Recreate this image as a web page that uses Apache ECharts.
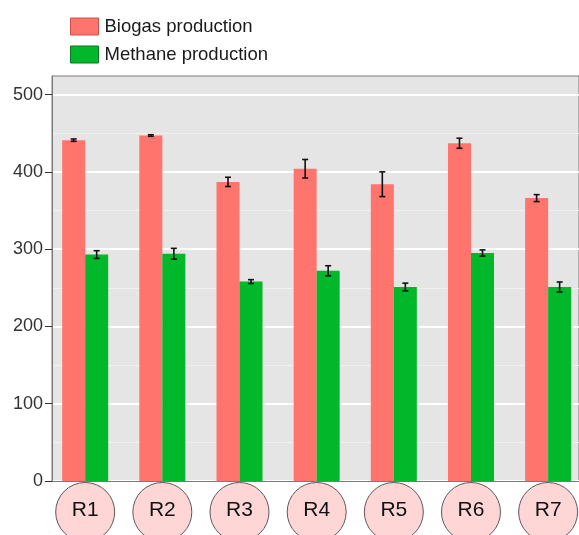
<!DOCTYPE html>
<html>
<head>
<meta charset="utf-8">
<script src="https://cdn.jsdelivr.net/npm/echarts@6/dist/echarts.min.js"></script>
<style>
  html, body { margin: 0; padding: 0; background: #ffffff; }
  #chart { width: 579px; height: 535px; }
</style>
</head>
<body>
<div id="chart"></div>
<script>
// Reactor labels along the x axis
const reactors = ['R1', 'R2', 'R3', 'R4', 'R5', 'R6', 'R7'];
// Mean biogas and methane production per reactor
const biogas = [441, 447, 387, 404, 384, 437, 366];
const methane = [293, 294, 258, 272, 251, 295, 251];
// Standard deviations used for the error bars
const biogasSd = [1.5, 1, 6, 12, 16, 6.5, 4.5];
const methaneSd = [5, 7, 2.5, 6.5, 5, 4, 6.5];
// Y axis tick values
const yTicks = [0, 100, 200, 300, 400, 500];

const FONT = '"Liberation Sans", Arial, Helvetica, sans-serif';
const RED = '#FF746C';
const GREEN = '#00B82A';
const BAR_W = 23;

const barData = (vals) => vals.map((v, i) => [i + 1, v]);
const errData = (vals, sd) => vals.map((v, i) => [i + 1, v - sd[i], v + sd[i]]);

function errorBar(shift) {
  return function (params, api) {
    const x = api.value(0);
    const lo = api.coord([x, api.value(1)]);
    const hi = api.coord([x, api.value(2)]);
    const cx = lo[0] + shift;
    const cap = 3;
    const style = { stroke: '#111', lineWidth: 1.6 };
    return {
      type: 'group',
      children: [
        { type: 'line', shape: { x1: cx, y1: lo[1], x2: cx, y2: hi[1] }, style },
        { type: 'line', shape: { x1: cx - cap, y1: lo[1], x2: cx + cap, y2: lo[1] }, style },
        { type: 'line', shape: { x1: cx - cap, y1: hi[1], x2: cx + cap, y2: hi[1] }, style }
      ]
    };
  };
}

const chart = echarts.init(document.getElementById('chart'), null, { renderer: 'canvas' });

chart.setOption({
  animation: false,
  backgroundColor: '#ffffff',
  textStyle: { fontFamily: FONT },
  legend: {
    orient: 'vertical',
    left: 65,
    top: 12,
    itemWidth: 28,
    itemHeight: 17,
    itemGap: 9,
    icon: 'rect',
    textStyle: { fontSize: 18.5, color: '#1a1a1a', fontFamily: FONT, padding: [0, 0, 0, 1], lineHeight: 17 },
    data: [
      { name: 'Biogas production', itemStyle: { borderColor: '#c9514a', borderWidth: 1 } },
      { name: 'Methane production', itemStyle: { borderColor: '#0a7a22', borderWidth: 1 } }
    ]
  },
  grid: {
    left: 52,
    right: 0,
    top: 76,
    bottom: 54,
    show: true,
    backgroundColor: '#E5E5E5',
    borderColor: '#7a7a7a',
    borderWidth: 1
  },
  xAxis: {
    type: 'value',
    min: 0.57,
    max: 7.4,
    axisLine: { show: true, lineStyle: { color: '#7a7a7a' } },
    axisTick: { show: false },
    axisLabel: { show: false },
    splitLine: { show: false }
  },
  yAxis: {
    type: 'value',
    min: 0,
    max: 524,
    interval: 100,
    axisLine: { show: true, lineStyle: { color: '#7a7a7a' } },
    axisTick: { show: true, length: 7, customValues: yTicks, lineStyle: { color: '#333' } },
    axisLabel: {
      fontSize: 18, color: '#333', margin: 9, fontFamily: FONT,
      customValues: yTicks
    },
    splitLine: { show: true, lineStyle: { color: '#ffffff', width: 2 } },
    minorTick: { show: false, splitNumber: 2 },
    minorSplitLine: { show: true, lineStyle: { color: '#F0F0F0', width: 1 } }
  },
  series: [
    {
      name: 'Biogas production',
      type: 'bar',
      barWidth: BAR_W,
      barGap: '0%',
      itemStyle: { color: RED },
      data: barData(biogas),
      z: 2
    },
    {
      name: 'Methane production',
      type: 'bar',
      barWidth: BAR_W,
      barGap: '0%',
      itemStyle: { color: GREEN },
      data: barData(methane),
      z: 2
    },
    {
      type: 'custom',
      renderItem: errorBar(-BAR_W / 2),
      data: errData(biogas, biogasSd),
      encode: { x: 0, y: [1, 2] },
      z: 5,
      silent: true
    },
    {
      type: 'custom',
      renderItem: errorBar(BAR_W / 2),
      data: errData(methane, methaneSd),
      encode: { x: 0, y: [1, 2] },
      z: 5,
      silent: true
    },
    {
      // circled reactor names under the axis
      type: 'custom',
      clip: false,
      silent: true,
      data: reactors.map((r, i) => [i + 1, 0, r]),
      encode: { x: 0, y: 1 },
      renderItem: function (params, api) {
        const p = api.coord([api.value(0), 0]);
        const name = reactors[params.dataIndex];
        return {
          type: 'group',
          children: [
            {
              type: 'circle',
              shape: { cx: p[0], cy: p[1] + 31, r: 29.5 },
              style: { fill: '#FFD6D6', stroke: '#5a5a5a', lineWidth: 1 }
            },
            {
              type: 'text',
              style: {
                x: p[0], y: p[1] + 29,
                text: name,
                fill: '#111',
                font: '21px ' + FONT,
                align: 'center',
                verticalAlign: 'middle'
              }
            }
          ]
        };
      }
    }
  ]
});
</script>
</body>
</html>
